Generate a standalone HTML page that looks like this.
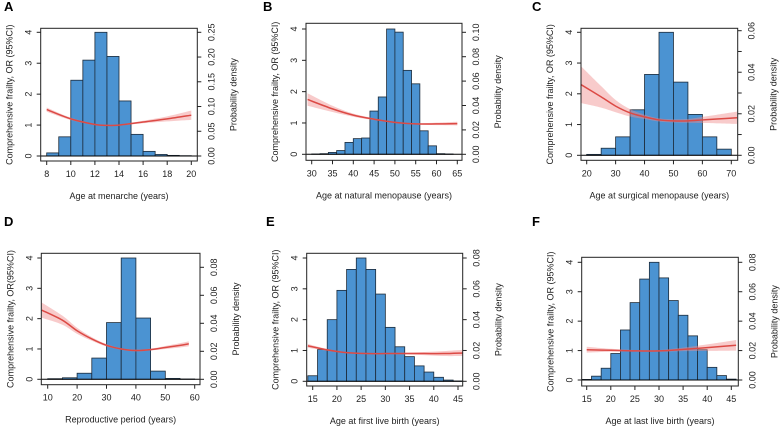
<!DOCTYPE html>
<html><head><meta charset="utf-8"><style>
html,body{margin:0;padding:0;background:#fff;}
svg{display:block;font-family:"Liberation Sans",Arial,sans-serif;}
</style></head><body>
<svg id="fig" width="780" height="429" viewBox="0 0 780 429" xmlns="http://www.w3.org/2000/svg"></svg>
<script>
// ---- data ----
const aBinStart=8, aBinWidth=1;
const aBins=[0.1,0.62,2.45,3.1,4.0,3.22,1.78,0.7,0.15,0.05,0.02,0.01];
const aCurveX=[8,10,12,13,14,16,18,20];
const aCurveY=[1.5,1.2,1.02,0.99,1.0,1.1,1.2,1.32];
const aCurveCI=[0.07,0.04,0.02,0.02,0.02,0.04,0.08,0.15];

const bBinStart=30, bBinWidth=2;
const bBins=[0.01,0.02,0.06,0.12,0.38,0.5,0.52,1.38,1.83,4.0,3.9,2.68,2.25,0.75,0.27,0.02,0.01];
const bCurveX=[29,35,40,45,50,55,60,65];
const bCurveY=[1.75,1.45,1.25,1.12,1.02,0.97,0.97,0.98];
const bCurveCI=[0.2,0.1,0.05,0.03,0.02,0.02,0.04,0.06];

const cBinStart=20, cBinWidth=5;
const cBins=[0.03,0.23,0.6,1.48,2.63,4.0,2.38,1.33,0.6,0.2];
const cCurveX=[18,25,30,35,40,45,50,55,60,65,72];
const cCurveY=[2.3,1.9,1.6,1.38,1.25,1.15,1.12,1.12,1.15,1.18,1.22];
const cCurveCI=[0.6,0.35,0.2,0.12,0.07,0.05,0.05,0.06,0.1,0.14,0.2];

const dBinStart=10, dBinWidth=5;
const dBins=[0.02,0.05,0.2,0.7,1.87,4.0,2.02,0.27,0.03,0.01];
const dCurveX=[8,15,20,25,30,35,40,45,50,55,58];
const dCurveY=[2.28,1.95,1.6,1.33,1.12,1.0,0.95,0.98,1.05,1.12,1.17];
const dCurveCI=[0.25,0.15,0.1,0.06,0.04,0.03,0.03,0.03,0.05,0.07,0.08];

const eBinStart=14, eBinWidth=2;
const eBins=[0.18,1.03,2.0,2.95,3.63,4.0,3.63,2.83,1.75,1.12,0.8,0.5,0.3,0.13,0.04,0.01];
const eCurveX=[14,18,22,26,30,34,38,42,46];
const eCurveY=[1.15,1.02,0.93,0.9,0.9,0.9,0.9,0.9,0.92];
const eCurveCI=[0.06,0.03,0.02,0.02,0.02,0.03,0.05,0.08,0.1];

const fBinStart=14, fBinWidth=2;
const fBins=[0.02,0.13,0.4,0.9,1.7,2.63,3.43,4.0,3.47,2.7,2.2,1.5,1.03,0.43,0.15,0.03];
const fCurveX=[15,20,25,30,35,40,46];
const fCurveY=[1.03,1.01,0.99,0.99,1.04,1.1,1.18];
const fCurveCI=[0.1,0.05,0.03,0.03,0.06,0.11,0.18];

const xTicksA=[8,10,12,14,16,18,20];
const xTicksB=[30,35,40,45,50,55,60,65];
const xTicksC=[20,30,40,50,60,70];
const xTicksD=[10,20,30,40,50,60];
const xTicksE=[15,20,25,30,35,40,45];
const xTicksF=[15,20,25,30,35,40,45];
const rTicksA=[0,0.05,0.10,0.15,0.20,0.25];
const rTicksB=[0,0.02,0.04,0.06,0.08,0.10];
const rTicksC=[0,0.01,0.02,0.03,0.04,0.05,0.06];
const rTicksD=[0,0.02,0.04,0.06,0.08];
const rTicksE=[0,0.02,0.04,0.06,0.08];
const rTicksF=[0,0.02,0.04,0.06,0.08];
const leftTicks=[0,1,2,3,4];

const panels=[
 {id:'a',letter:'A',lx:4,ly:11,box:[40.7,197.3,28.3,161],xr:[8,20,46.7,191.3],yr:[156,32.3],rt:[0.25,32.3],bins:aBins,bs:aBinStart,bw:aBinWidth,cx:aCurveX,cy:aCurveY,ci:aCurveCI,xt:xTicksA,rtk:rTicksA,rlab:2,title:'Age at menarche (years)',ylab:'Comprehensive frailty, OR (95%CI)'},
 {id:'b',letter:'B',lx:263,ly:11,box:[306,462,23.3,160.3],xr:[30,65,311.7,457.3],yr:[154.3,29],rt:[0.10,32.3],bins:bBins,bs:bBinStart,bw:bBinWidth,cx:bCurveX,cy:bCurveY,ci:bCurveCI,xt:xTicksB,rtk:rTicksB,rlab:2,title:'Age at natural menopause (years)',ylab:'Comprehensive frailty, OR (95%CI)'},
 {id:'c',letter:'C',lx:532,ly:11,box:[581,737.7,28.3,160.3],xr:[20,70,586.7,731.3],yr:[155.3,32.3],rt:[0.06,30.7],bins:cBins,bs:cBinStart,bw:cBinWidth,cx:cCurveX,cy:cCurveY,ci:cCurveCI,xt:xTicksC,rtk:rTicksC,rlab:2,skipOdd:true,title:'Age at surgical menopause (years)',ylab:'Comprehensive frailty, OR (95%CI)'},
 {id:'d',letter:'D',lx:4,ly:226,box:[41.3,200,253.3,384.7],xr:[10,60,47.7,194.7],yr:[379.3,258],rt:[0.08,267.3],bins:dBins,bs:dBinStart,bw:dBinWidth,cx:dCurveX,cy:dCurveY,ci:dCurveCI,xt:xTicksD,rtk:rTicksD,rlab:2,title:'Reproductive period (years)',ylab:'Comprehensive frailty, OR(95%CI)'},
 {id:'e',letter:'E',lx:266,ly:226,box:[306.7,462.7,253.3,386],xr:[15,45,312.7,458],yr:[381.3,258],rt:[0.08,258],bins:eBins,bs:eBinStart,bw:eBinWidth,cx:eCurveX,cy:eCurveY,ci:eCurveCI,xt:xTicksE,rtk:rTicksE,rlab:2,title:'Age at first live birth (years)',ylab:'Comprehensive frailty, OR (95%CI)'},
 {id:'f',letter:'F',lx:532,ly:226,box:[581.7,738.3,257.3,386],xr:[15,45,586.7,731.3],yr:[380,262.3],rt:[0.08,262.3],bins:fBins,bs:fBinStart,bw:fBinWidth,cx:fCurveX,cy:fCurveY,ci:fCurveCI,xt:xTicksF,rtk:rTicksF,rlab:2,title:'Age at last live birth (years)',ylab:'Comprehensive frailty, OR (95%CI)'}
];

const NS='http://www.w3.org/2000/svg';
const svg=document.getElementById('fig');
function mk(tag,attrs,parent){const e=document.createElementNS(NS,tag);for(const k in attrs)e.setAttribute(k,attrs[k]);(parent||svg).appendChild(e);return e;}
// Catmull-Rom smoothing through points
function smooth(pts,start){
  let d=start?'M'+pts[0][0]+','+pts[0][1]:'L'+pts[0][0]+','+pts[0][1];
  for(let i=0;i<pts.length-1;i++){
    const p0=pts[i-1]||pts[i],p1=pts[i],p2=pts[i+1],p3=pts[i+2]||pts[i+1];
    const c1=[p1[0]+(p2[0]-p0[0])/6,p1[1]+(p2[1]-p0[1])/6];
    const c2=[p2[0]-(p3[0]-p1[0])/6,p2[1]-(p3[1]-p1[1])/6];
    d+='C'+c1[0]+','+c1[1]+' '+c2[0]+','+c2[1]+' '+p2[0]+','+p2[1];
  }
  return d;
}

panels.forEach(p=>{
  const g=mk('g',{});
  
  
  const [bx0,bx1,by0,by1]=p.box;
  const X=v=>p.xr[2]+(v-p.xr[0])*(p.xr[3]-p.xr[2])/(p.xr[1]-p.xr[0]);
  const Y=v=>p.yr[0]+(v)*(p.yr[1]-p.yr[0])/4;
  const R=v=>p.yr[0]+v*(p.rt[1]-p.yr[0])/p.rt[0];
  const L=mk('text',{x:p.lx,y:p.ly,'font-size':13,'font-weight':'bold',fill:'#000'},g);
  L.textContent=p.letter;
  
  
  p.bins.forEach((h,i)=>{
    const x0=X(p.bs+i*p.bw), x1=X(p.bs+(i+1)*p.bw);
    const r=mk('rect',{x:x0,y:Y(h),width:x1-x0,height:Y(0)-Y(h),fill:'#4b93d2',stroke:'#1c2b3a','stroke-width':0.8},g);
    
    
  });
  const bl=mk('line',{x1:bx0,x2:bx1,y1:Y(0),y2:Y(0),stroke:'#000','stroke-width':1},g);
  
  
  const upP=p.cx.map((x,i)=>[X(x),Y(p.cy[i]+p.ci[i])]);
  const loP=p.cx.map((x,i)=>[X(x),Y(p.cy[i]-p.ci[i])]).reverse();
  const band=mk('path',{d:smooth(upP,true)+smooth(loP,false)+'Z',fill:'rgba(240,140,140,0.45)',stroke:'none'},g);
  
  
  const midP=p.cx.map((x,i)=>[X(x),Y(p.cy[i])]);
  const ln=mk('path',{d:smooth(midP,true),fill:'none',stroke:'#dc4a45','stroke-width':1.5},g);
  
  
  const bxr=mk('rect',{x:bx0,y:by0,width:bx1-bx0,height:by1-by0,fill:'none',stroke:'#222','stroke-width':1},g);
  
  
  leftTicks.forEach(t=>{
    const y=Y(t);
    mk('line',{x1:bx0-4,x2:bx0,y1:y,y2:y,stroke:'#222'},g);
    const tx=mk('text',{x:0,y:0,transform:`translate(${bx0-9},${y}) rotate(-90)`,'text-anchor':'middle','font-size':9,fill:'#222'},g);
    tx.textContent=t;
    
    
  });
  p.rtk.forEach((t,i)=>{
    const y=R(t);
    mk('line',{x1:bx1,x2:bx1+4,y1:y,y2:y,stroke:'#222'},g);
    if(p.skipOdd && i%2===1) return;
    const tx=mk('text',{x:0,y:0,transform:`translate(${bx1+17},${y}) rotate(-90)`,'text-anchor':'middle','font-size':9,fill:'#222'},g);
    tx.textContent=t.toFixed(p.rlab);
    
    
  });
  p.xt.forEach(t=>{
    const x=X(t);
    mk('line',{x1:x,x2:x,y1:by1,y2:by1+4,stroke:'#222'},g);
    const tx=mk('text',{x:x,y:by1+16,'text-anchor':'middle','font-size':9,fill:'#222'},g);
    tx.textContent=t;
    
    
  });
  const xt=mk('text',{x:(bx0+bx1)/2,y:by1+38,'text-anchor':'middle','font-size':9,fill:'#222'},g);
  xt.textContent=p.title;
  
  
  const cyc=(by0+by1)/2;
  const yl=mk('text',{x:0,y:0,transform:`translate(${bx0-28},${cyc}) rotate(-90)`,'text-anchor':'middle','font-size':9,fill:'#222'},g);
  yl.textContent=p.ylab;
  
  
  const yr=mk('text',{x:0,y:0,transform:`translate(${bx1+39},${cyc}) rotate(-90)`,'text-anchor':'middle','font-size':9,fill:'#222'},g);
  yr.textContent='Probability density';
  
  
});
</script>
</body></html>
